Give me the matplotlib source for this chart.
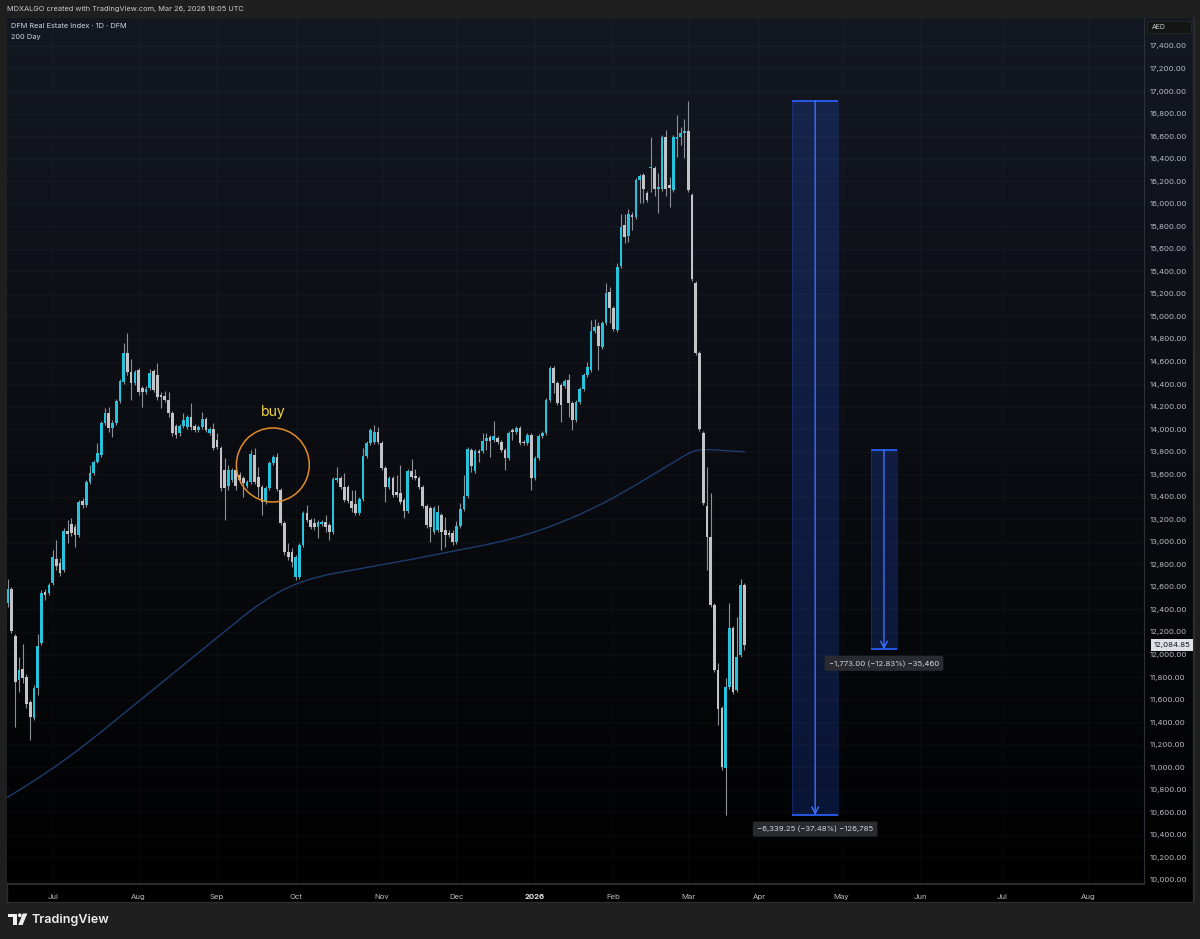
import numpy as np
import pandas as pd
import matplotlib
matplotlib.use("Agg")
import matplotlib.pyplot as plt
from matplotlib.patches import Rectangle, Ellipse, Circle, Polygon

plt.rcParams['font.family'] = ['Inter', 'DejaVu Sans']

W, H = 1200, 939

# ---------------- data ----------------
last_session = "2026-03-26"
axis_end = "2026-08-31"
market_holidays = ["2025-06-27", "2025-09-05", "2025-12-02", "2025-12-03",
                   "2026-01-01", "2026-03-18", "2026-03-19", "2026-03-20"]

opens = [12457, 12582, 12165, 11774, 11872, 11801, 11579, 11437, 11703, 12103,
         12555, 12546, 12635, 12848, 12813, 12750, 13096, 13159, 13132, 13061,
         13363, 13327, 13531, 13611, 13709, 13771, 14055, 14144, 14011, 14055,
         14250, 14418, 14676, 14507, 14410, 14525, 14365, 14330, 14365, 14516,
         14481, 14303, 14294, 14259, 14144, 14028, 13966, 14028, 14019, 14108,
         14028, 13993, 14019, 14090, 13966, 14002, 13904, 13833, 13638, 13496,
         13549, 13638, 13593, 13567, 13496, 13531, 13771, 13576, 13487, 13354,
         13478, 13700, 13753, 13460, 13167, 12910, 12910, 12688, 12688, 12972,
         13256, 13194, 13168, 13132, 13159, 13176, 13150, 13088, 13549, 13567,
         13487, 13487, 13363, 13336, 13256, 13380, 13762, 13877, 13886, 13975,
         13877, 13655, 13487, 13567, 13443, 13434, 13372, 13274, 13629, 13585,
         13567, 13487, 13318, 13301, 13088, 13105, 13238, 13105, 13079, 13079,
         12999, 13141, 13292, 13407, 13815, 13629, 13806, 13806, 13895, 13930,
         13904, 13922, 13886, 13815, 13744, 13993, 13975, 14011, 13886, 13877,
         13948, 13567, 13744, 13939, 13966, 14259, 14543, 14410, 14392, 14383,
         14436, 14232, 14081, 14241, 14356, 14481, 14525, 14871, 14915, 14729,
         14942, 15217, 15075, 14880, 15448, 15812, 15714, 15900, 15883, 16211,
         16255, 16096, 16317, 16317, 16131, 16131, 16592, 16167, 16122, 16574,
         16592, 16628, 16646, 16078, 15297, 14676, 13966, 13318, 13043, 12440,
         11863, 11526, 10993, 11712, 12236, 11686, 11996, 12617]

highs = [12671, 12600, 12182, 11979, 12094, 11828, 11597, 11730, 12182, 12573,
         12582, 12635, 12928, 13017, 12857, 13123, 13194, 13212, 13159, 13372,
         13389, 13549, 13682, 13726, 13877, 14073, 14188, 14197, 14081, 14268,
         14445, 14765, 14853, 14623, 14525, 14543, 14383, 14383, 14534, 14534,
         14587, 14330, 14339, 14330, 14161, 14046, 14046, 14144, 14126, 14232,
         14046, 14037, 14152, 14108, 14019, 14055, 13966, 13851, 13744, 13682,
         13655, 13682, 13620, 13585, 13549, 13815, 13833, 13664, 13505, 13496,
         13717, 13771, 13789, 13478, 13185, 12990, 12946, 12883, 12990, 13274,
         13327, 13212, 13212, 13194, 13194, 13238, 13168, 13576, 13664, 13585,
         13611, 13505, 13460, 13460, 13398, 13833, 13895, 14011, 14037, 14019,
         13895, 13673, 13585, 13585, 13593, 13682, 13389, 13647, 13735, 13647,
         13585, 13505, 13336, 13318, 13318, 13327, 13256, 13221, 13105, 13105,
         13185, 13345, 13593, 13842, 13833, 13824, 13824, 13966, 13966, 13948,
         14073, 13939, 13904, 13833, 13984, 14011, 14028, 14028, 13904, 13966,
         13966, 13762, 13957, 13984, 14276, 14561, 14561, 14427, 14410, 14445,
         14490, 14250, 14259, 14374, 14498, 14596, 14969, 14977, 14951, 14960,
         15297, 15261, 15093, 15474, 15909, 15909, 15953, 15927, 16229, 16264,
         16273, 16113, 16592, 16335, 16273, 16610, 16655, 16238, 16610, 16788,
         16681, 16752, 16914.10, 16096, 15315, 14694, 13984, 13664, 13434, 12457,
         11925, 11544, 11792, 12457, 12253, 12333, 12671, 12635]

lows = [12422, 12191, 11358, 11668, 11748, 11526, 11242, 11419, 11641, 12085,
        12484, 12529, 12617, 12750, 12697, 12733, 12990, 13052, 12955, 13043,
        13301, 13310, 13514, 13593, 13699, 13753, 14037, 13975, 13930, 14037,
        14232, 14401, 14481, 14259, 14392, 14303, 14197, 14312, 14348, 14330,
        14259, 14188, 14241, 14108, 13939, 13922, 13939, 14011, 14002, 13993,
        13975, 13975, 14002, 13975, 13948, 13815, 13824, 13451, 13194, 13460,
        13531, 13460, 13522, 13398, 13478, 13514, 13514, 13398, 13238, 13336,
        13460, 13682, 13451, 13150, 12883, 12839, 12777, 12662, 12671, 12955,
        13177, 13114, 13105, 13034, 13141, 13088, 13017, 13070, 13531, 13469,
        13354, 13345, 13265, 13238, 13238, 13363, 13744, 13860, 13868, 13868,
        13638, 13354, 13469, 13398, 13398, 13336, 13212, 13256, 13558, 13549,
        13469, 13301, 13123, 12999, 13070, 13088, 12928, 12955, 13043, 12972,
        12981, 13123, 13274, 13390, 13620, 13611, 13709, 13789, 13815, 13753,
        13886, 13868, 13797, 13638, 13726, 13904, 13957, 13860, 13860, 13860,
        13460, 13549, 13726, 13922, 13948, 14241, 14321, 14214, 14064, 14365,
        14108, 13993, 14064, 14223, 14339, 14463, 14507, 14853, 14525, 14711,
        14924, 14942, 14871, 14862, 15430, 15652, 15661, 15767, 15865, 16007,
        16007, 16016, 16104, 16069, 15918, 16113, 16069, 15971, 16104, 16415,
        16521, 16406, 16104, 15315, 14658, 13984, 13327, 12750, 12422, 11845,
        11375, 10976, 10574.85, 11695, 11650, 11668, 11979, 12042]

closes = [12582, 12209, 11756, 11863, 11792, 11561, 11446, 11703, 12076, 12546,
          12529, 12617, 12866, 12786, 12724, 13096, 13070, 13079, 13061, 13354,
          13327, 13531, 13611, 13709, 13788, 14055, 14144, 14011, 14055, 14250,
          14427, 14676, 14507, 14410, 14507, 14330, 14330, 14356, 14498, 14348,
          14286, 14286, 14259, 14144, 13966, 13948, 14028, 14081, 14108, 14019,
          13993, 14019, 14090, 13993, 14002, 13833, 13842, 13478, 13478, 13638,
          13638, 13496, 13549, 13522, 13531, 13780, 13531, 13487, 13354, 13478,
          13700, 13753, 13469, 13167, 12910, 12866, 12821, 12866, 12972, 13256,
          13194, 13132, 13132, 13176, 13176, 13132, 13088, 13558, 13567, 13487,
          13372, 13363, 13301, 13256, 13380, 13762, 13877, 13993, 13975, 13886,
          13655, 13487, 13567, 13416, 13416, 13354, 13274, 13629, 13576, 13567,
          13487, 13318, 13150, 13132, 13301, 13265, 13088, 13061, 13061, 12999,
          13141, 13292, 13407, 13824, 13673, 13806, 13789, 13895, 13922, 13895,
          13939, 13886, 13815, 13744, 13966, 13975, 14011, 13877, 13877, 13948,
          13567, 13744, 13939, 13966, 14259, 14543, 14410, 14232, 14214, 14427,
          14232, 14081, 14241, 14356, 14481, 14552, 14871, 14907, 14738, 14942,
          15208, 15075, 14889, 15439, 15794, 15705, 15909, 15883, 16211, 16246,
          16131, 16033, 16326, 16131, 16149, 16592, 16131, 16140, 16592, 16592,
          16628, 16646, 16122, 15332, 14676, 14002, 13345, 13043, 12440, 11863,
          11517, 11002, 11712, 12236, 11668, 11979, 12617, 12084.85]

ma_200 = [10735, 10755, 10775, 10796, 10816, 10837, 10858, 10879, 10901, 10923,
          10945, 10967, 10990, 11013, 11036, 11060, 11084, 11108, 11133, 11158,
          11183, 11209, 11235, 11261, 11287, 11314, 11341, 11368, 11395, 11422,
          11449, 11476, 11503, 11530, 11557, 11584, 11611, 11638, 11665, 11692,
          11719, 11746, 11773, 11800, 11827, 11854, 11881, 11908, 11935, 11962,
          11989, 12016, 12043, 12070, 12097, 12124, 12151, 12178, 12205, 12232,
          12259, 12286, 12313, 12339, 12365, 12390, 12415, 12439, 12462, 12484,
          12505, 12525, 12544, 12562, 12579, 12595, 12610, 12624, 12637, 12649,
          12660, 12670, 12679, 12688, 12696, 12704, 12712, 12718, 12724, 12730,
          12736, 12742, 12748, 12754, 12760, 12766, 12772, 12778, 12784, 12790,
          12796, 12802, 12808, 12814, 12820, 12826, 12832, 12838, 12845, 12851,
          12858, 12864, 12871, 12877, 12884, 12890, 12897, 12903, 12910, 12916,
          12923, 12929, 12936, 12942, 12949, 12955, 12962, 12968, 12975, 12981,
          12989, 12996, 13004, 13012, 13020, 13029, 13038, 13048, 13058, 13068,
          13078, 13089, 13100, 13112, 13123, 13135, 13148, 13161, 13174, 13187,
          13201, 13215, 13229, 13244, 13259, 13275, 13290, 13306, 13323, 13339,
          13356, 13374, 13391, 13410, 13428, 13447, 13466, 13485, 13505, 13525,
          13545, 13565, 13585, 13605, 13625, 13645, 13665, 13685, 13705, 13725,
          13745, 13765, 13783, 13798, 13808, 13814, 13817, 13818, 13817, 13815,
          13813, 13811, 13809, 13807, 13805, 13803, 13802, 13800]

# measure tool drawings: bar span, price from -> price to
measure_bars = [(209.8, 222.1), (230.9, 237.8)]
measure_from = [16914.10, 13818.65]
measure_to = [10574.85, 12045.65]
tick_size = 0.05

buy_bar, buy_price = 70.9, 14150
circle_bar, circle_price = 70.9, 13682
circle_w, circle_h = 19.5, 657

price_ticks = list(range(10000, 17401, 200))

# ---------------- colours ----------------
UP = '#27c3dc'
DOWN = '#c3c4c8'
WICK = '#8d9197'
MA_COL = '#1d3d6e'
BLUE = '#2962ff'
TXT = '#b8bbc2'

# ---------------- figure ----------------
fig = plt.figure(figsize=(W / 100, H / 100), dpi=100, facecolor='#1f1f1f')


def px_axes(z):
    a = fig.add_axes([0, 0, 1, 1], zorder=z)
    a.set_axis_off()
    a.patch.set_alpha(0)
    return a


# panel background: vertical gradient, black time strip
under = px_axes(0)
under.add_patch(Rectangle((6.5, 17.5), 1187, 884, fc='#000000', ec='#2c2c2c',
                          lw=1, zorder=0))
g = np.linspace(0, 1, 256)[:, None]
top_c = np.array([0.078, 0.094, 0.133])
bot_c = np.array([0.004, 0.004, 0.006])
grad = (top_c * (1 - g) + bot_c * g)[:, None, :]
under.imshow(grad, extent=(7, 1193, 884, 18), aspect='auto', origin='upper',
             interpolation='bilinear', zorder=1)
under.plot([1193, 1193], [18, 901], color='#2c2c2c', lw=1, zorder=2)
under.set_xlim(0, W)
under.set_ylim(H, 0)

# main price pane
L, R, T, B = 7, 1144, 18, 884
ax = fig.add_axes([L / W, 1 - B / H, (R - L) / W, (B - T) / H], zorder=1)
ax.patch.set_alpha(0)

o, hi, lo, c = (np.array(v, dtype=float) for v in (opens, highs, lows, closes))
x = np.arange(len(c))
up = c >= o

ax.plot(x, ma_200, color=MA_COL, lw=1.0, zorder=2)
ax.vlines(x, lo, hi, color=WICK, lw=0.8, zorder=3)
body_lo = np.minimum(o, c)
body_h = np.maximum(np.abs(c - o), 10)
ax.bar(x[up], body_h[up], bottom=body_lo[up], width=0.72, color=UP, lw=0, zorder=4)
ax.bar(x[~up], body_h[~up], bottom=body_lo[~up], width=0.72, color=DOWN, lw=0, zorder=4)

# month ticks from the trading calendar (+ plain weekdays after the last bar)
dates = pd.bdate_range(end=last_session, periods=len(c), freq='C', holidays=market_holidays)
future = pd.bdate_range(start=dates[-1] + pd.Timedelta(days=1), end=axis_end)
all_dates = dates.append(future)
month_pos, month_lab = [], []
for i in range(1, len(all_dates)):
    if all_dates[i].month != all_dates[i - 1].month:
        month_pos.append(i)
        d = all_dates[i]
        month_lab.append(str(d.year) if d.month == 1 else d.strftime('%b'))

ax.set_xlim(-0.2, 303.9)
ax.set_ylim(9964, 17648)
ax.set_xticks(month_pos)
ax.set_xticklabels(month_lab)
ax.yaxis.tick_right()
ax.set_yticks(price_ticks)
ax.set_yticklabels([f"{p:,.2f}" for p in price_ticks])
ax.tick_params(axis='y', length=0, pad=4.2, labelsize=5.6, labelcolor=TXT)
ax.tick_params(axis='x', length=0, pad=7.0, labelsize=5.6, labelcolor=TXT)
for t in ax.get_xticklabels():
    if t.get_text().isdigit():
        t.set_fontweight('bold')
        t.set_color('#e6e8ec')
ax.grid(True, color='white', alpha=0.03, lw=0.6, zorder=0)
for s in ('top', 'left'):
    ax.spines[s].set_visible(False)
ax.spines['right'].set_color('#2f3138')
ax.spines['bottom'].set_color('#2c2c2e')
ax.spines['bottom'].set_linewidth(1.6)

# buy marker
ax.add_patch(Ellipse((circle_bar, circle_price), circle_w, circle_h, fill=False,
                     ec='#e38b26', lw=1.1, zorder=5))
ax.text(buy_bar, buy_price, 'buy', color='#f0d640', fontsize=10, ha='center',
        va='center', zorder=5)

# measure drawings
for (b0, b1), p0, p1 in zip(measure_bars, measure_from, measure_to):
    xc = (b0 + b1) / 2
    ax.add_patch(Rectangle((b0, p1), b1 - b0, p0 - p1, fc=BLUE, alpha=0.2,
                           ec='none', zorder=1))
    ax.add_patch(Rectangle((b0, p1), b1 - b0, p0 - p1, fill=False,
                           ec=(0.16, 0.38, 1.0, 0.22), lw=0.8, zorder=1))
    ax.hlines([p0, p1], b0, b1, color=BLUE, lw=1.2, zorder=2)
    ax.annotate('', xy=(xc, p1), xytext=(xc, p0),
                arrowprops=dict(arrowstyle='->', color='#3d70ff', lw=1.0,
                                shrinkA=0, shrinkB=0, mutation_scale=12), zorder=2)
    d = p0 - p1
    pct = d / p0 * 100
    label = f"\u2212{d:,.2f} (\u2212{pct:.2f}%) \u2212{d / tick_size:,.0f}"
    ax.annotate(label, xy=(xc, p1), xytext=(0, -10), textcoords='offset points',
                ha='center', va='center', fontsize=5.6, color='#d1d4dc', zorder=6,
                bbox=dict(boxstyle='round,pad=0.55,rounding_size=0.25',
                          fc='#2a2b30', ec='none'))

# last price tag on the scale
ax.annotate(f"{closes[-1]:,.2f}", xy=(1, closes[-1]), xycoords=('axes fraction', 'data'),
            xytext=(6.8, 0), textcoords='offset points', ha='left', va='center',
            fontsize=5.6, color='#131722', annotation_clip=False, zorder=10,
            bbox=dict(boxstyle='square,pad=0.35', fc='#dfe1e6', ec='none'))

# ---------------- overlay texts ----------------
over = px_axes(3)
over.set_xlim(0, W)
over.set_ylim(H, 0)
over.text(7, 9.5, 'MDXALGO created with TradingView.com, Mar 26, 2026 18:05 UTC',
          fontsize=5.3, color='#c9ccd3', va='center', ha='left')
over.text(11, 26.5, 'DFM Real Estate Index \u00b7 1D \u00b7 DFM', fontsize=5.3,
          color='#d1d4dc', va='center', ha='left')
over.text(11, 37.5, '200 Day', fontsize=5.3, color='#d1d4dc', va='center', ha='left')

over.add_patch(Rectangle((1147, 20.5), 44, 12, fc='#141414', ec='#2a2a2a', lw=0.6))
over.text(1152, 26.7, 'AED', fontsize=5, color='#c9ccd3', va='center', ha='left')

# TradingView logo
over.add_patch(Rectangle((8, 913.5), 8.5, 3.6, fc='#eeeeee', ec='none'))
over.add_patch(Rectangle((12.9, 913.5), 3.6, 11.5, fc='#eeeeee', ec='none'))
over.add_patch(Circle((19.8, 915.3), 1.9, fc='#eeeeee', ec='none'))
over.add_patch(Polygon([(22.8, 913.5), (27.3, 913.5), (22.6, 925), (18.3, 925)],
                       closed=True, fc='#eeeeee', ec='none'))
over.text(31, 919.5, 'TradingView', fontsize=9.0, fontweight='semibold',
          color='#eeeeee', va='center', ha='left')

fig.savefig('out.png', dpi=100, facecolor=fig.get_facecolor())
